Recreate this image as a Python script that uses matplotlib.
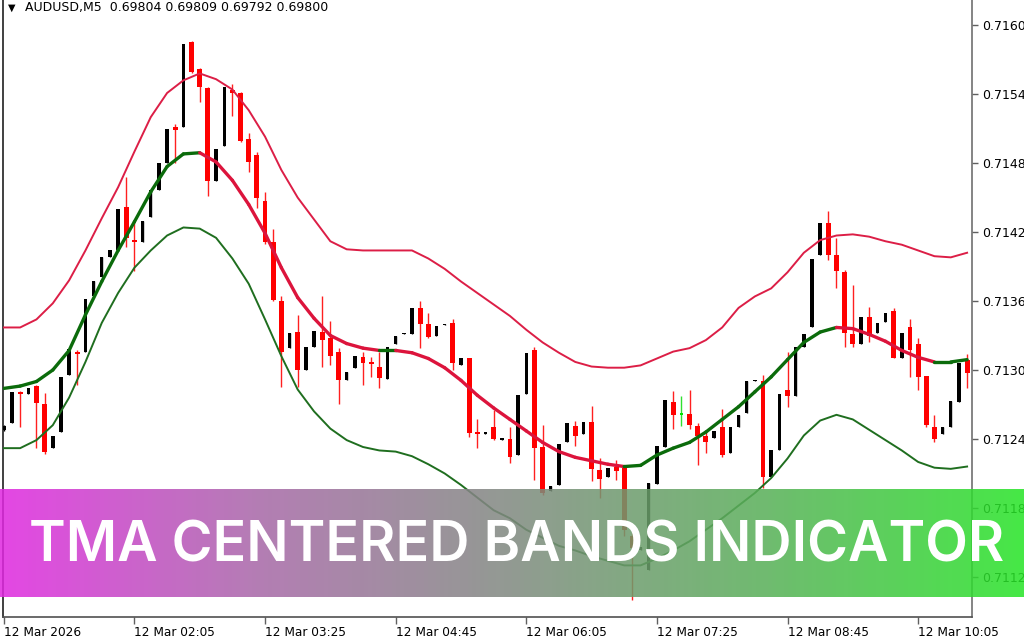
import numpy as np
import matplotlib
matplotlib.use("Agg")
import matplotlib.pyplot as plt
from matplotlib.collections import LineCollection
from matplotlib.colors import LinearSegmentedColormap

# AUDUSD M5 candles (open, high, low, close)
opens = [0.71248, 0.71254, 0.71281, 0.71279, 0.71286, 0.71270, 0.71232, 0.71246, 0.71296, 0.71316,
         0.71316, 0.71364, 0.71381, 0.71398, 0.71404, 0.71442, 0.71413, 0.71411, 0.71433, 0.71457,
         0.71480, 0.71511, 0.71511, 0.71585, 0.71562, 0.71545, 0.71464, 0.71495, 0.71544, 0.71541,
         0.71501, 0.71487, 0.71447, 0.71411, 0.71360, 0.71319, 0.71333, 0.71300, 0.71320, 0.71333,
         0.71328, 0.71316, 0.71291, 0.71302, 0.71311, 0.71307, 0.71303, 0.71292, 0.71323, 0.71331,
         0.71331, 0.71354, 0.71340, 0.71330, 0.71339, 0.71341, 0.71304, 0.71310, 0.71246, 0.71244,
         0.71250, 0.71239, 0.71240, 0.71226, 0.71279, 0.71317, 0.71233, 0.71195, 0.71200, 0.71237,
         0.71251, 0.71244, 0.71255, 0.71213, 0.71207, 0.71216, 0.71215, 0.71156, 0.71143, 0.71126,
         0.71201, 0.71233, 0.71272, 0.71261, 0.71262, 0.71251, 0.71243, 0.71241, 0.71250, 0.71228,
         0.71250, 0.71263, 0.71290, 0.71290, 0.71207, 0.71230, 0.71283, 0.71277, 0.71320, 0.71337,
         0.71400, 0.71428, 0.71400, 0.71385, 0.71331, 0.71323, 0.71346, 0.71332, 0.71342, 0.71351,
         0.71310, 0.71337, 0.71323, 0.71295, 0.71250, 0.71244, 0.71250, 0.71272, 0.71309]
highs = [0.71252, 0.71281, 0.71282, 0.71284, 0.71287, 0.71280, 0.71243, 0.71294, 0.71318, 0.71317,
         0.71362, 0.71377, 0.71398, 0.71404, 0.71440, 0.71468, 0.71430, 0.71430, 0.71457, 0.71480,
         0.71510, 0.71514, 0.71584, 0.71586, 0.71563, 0.71546, 0.71492, 0.71546, 0.71549, 0.71542,
         0.71506, 0.71490, 0.71455, 0.71423, 0.71364, 0.71332, 0.71348, 0.71320, 0.71334, 0.71364,
         0.71343, 0.71319, 0.71298, 0.71312, 0.71316, 0.71311, 0.71316, 0.71320, 0.71330, 0.71332,
         0.71354, 0.71360, 0.71350, 0.71338, 0.71340, 0.71344, 0.71310, 0.71310, 0.71257, 0.71246,
         0.71265, 0.71241, 0.71250, 0.71278, 0.71315, 0.71320, 0.71252, 0.71199, 0.71236, 0.71254,
         0.71256, 0.71255, 0.71269, 0.71223, 0.71215, 0.71222, 0.71216, 0.71158, 0.71146, 0.71202,
         0.71234, 0.71274, 0.71282, 0.71277, 0.71283, 0.71254, 0.71248, 0.71247, 0.71266, 0.71250,
         0.71261, 0.71290, 0.71291, 0.71296, 0.71230, 0.71279, 0.71316, 0.71320, 0.71331, 0.71397,
         0.71428, 0.71438, 0.71415, 0.71387, 0.71374, 0.71346, 0.71355, 0.71341, 0.71350, 0.71354,
         0.71332, 0.71344, 0.71328, 0.71295, 0.71261, 0.71250, 0.71273, 0.71306, 0.71314]
lows = [0.71247, 0.71254, 0.71250, 0.71279, 0.71232, 0.71227, 0.71232, 0.71246, 0.71296, 0.71287,
        0.71316, 0.71364, 0.71381, 0.71398, 0.71404, 0.71407, 0.71386, 0.71411, 0.71433, 0.71457,
        0.71480, 0.71480, 0.71511, 0.71558, 0.71533, 0.71451, 0.71464, 0.71495, 0.71521, 0.71498,
        0.71472, 0.71441, 0.71410, 0.71360, 0.71285, 0.71319, 0.71285, 0.71300, 0.71320, 0.71303,
        0.71304, 0.71270, 0.71291, 0.71302, 0.71287, 0.71294, 0.71284, 0.71292, 0.71323, 0.71331,
        0.71331, 0.71319, 0.71328, 0.71330, 0.71339, 0.71300, 0.71304, 0.71242, 0.71232, 0.71244,
        0.71239, 0.71239, 0.71219, 0.71226, 0.71279, 0.71204, 0.71191, 0.71195, 0.71200, 0.71237,
        0.71234, 0.71244, 0.71203, 0.71189, 0.71207, 0.71204, 0.71156, 0.71100, 0.71143, 0.71126,
        0.71201, 0.71233, 0.71249, 0.71251, 0.71249, 0.71217, 0.71228, 0.71241, 0.71224, 0.71228,
        0.71250, 0.71263, 0.71290, 0.71197, 0.71207, 0.71230, 0.71268, 0.71277, 0.71320, 0.71337,
        0.71400, 0.71396, 0.71371, 0.71320, 0.71320, 0.71323, 0.71324, 0.71332, 0.71342, 0.71310,
        0.71310, 0.71294, 0.71283, 0.71250, 0.71237, 0.71244, 0.71250, 0.71272, 0.71284]
closes = [0.71251, 0.71281, 0.71279, 0.71284, 0.71271, 0.71229, 0.71243, 0.71294, 0.71318, 0.71314,
          0.71362, 0.71377, 0.71398, 0.71404, 0.71440, 0.71415, 0.71411, 0.71430, 0.71457, 0.71480,
          0.71510, 0.71509, 0.71584, 0.71559, 0.71546, 0.71464, 0.71492, 0.71546, 0.71541, 0.71499,
          0.71481, 0.71450, 0.71411, 0.71361, 0.71316, 0.71332, 0.71300, 0.71320, 0.71334, 0.71326,
          0.71312, 0.71291, 0.71298, 0.71312, 0.71306, 0.71305, 0.71293, 0.71320, 0.71330, 0.71332,
          0.71354, 0.71340, 0.71329, 0.71338, 0.71340, 0.71306, 0.71310, 0.71245, 0.71244, 0.71246,
          0.71240, 0.71241, 0.71224, 0.71278, 0.71315, 0.71232, 0.71193, 0.71199, 0.71236, 0.71254,
          0.71243, 0.71255, 0.71214, 0.71205, 0.71215, 0.71212, 0.71161, 0.71145, 0.71146, 0.71202,
          0.71234, 0.71274, 0.71261, 0.71261, 0.71252, 0.71243, 0.71237, 0.71247, 0.71226, 0.71250,
          0.71261, 0.71290, 0.71291, 0.71207, 0.71230, 0.71279, 0.71277, 0.71320, 0.71331, 0.71397,
          0.71428, 0.71400, 0.71386, 0.71332, 0.71323, 0.71346, 0.71330, 0.71341, 0.71350, 0.71310,
          0.71332, 0.71317, 0.71294, 0.71252, 0.71240, 0.71250, 0.71273, 0.71306, 0.71297]

# TMA centered bands, read every second bar
band_bars = list(range(0, 119, 2))
tma_mid = [0.71284, 0.71286, 0.71290, 0.71300, 0.71317, 0.71348, 0.71377, 0.71404, 0.71429, 0.71455,
           0.71477, 0.71488, 0.71489, 0.71481, 0.71465, 0.71444, 0.71419, 0.71389, 0.71363, 0.71345,
           0.71330, 0.71323, 0.71319, 0.71317, 0.71317, 0.71315, 0.71310, 0.71302, 0.71291, 0.71278,
           0.71267, 0.71257, 0.71247, 0.71237, 0.71229, 0.71224, 0.71221, 0.71218, 0.71216, 0.71217,
           0.71226, 0.71232, 0.71237, 0.71246, 0.71257, 0.71268, 0.71281, 0.71294, 0.71309, 0.71324,
           0.71333, 0.71337, 0.71336, 0.71331, 0.71325, 0.71317, 0.71311, 0.71307, 0.71307, 0.71309]
tma_upper = [0.71337, 0.71337, 0.71344, 0.71358, 0.71378, 0.71404, 0.71432, 0.71459, 0.71490, 0.71520,
             0.71541, 0.71552, 0.71558, 0.71553, 0.71544, 0.71526, 0.71503, 0.71474, 0.71450, 0.71431,
             0.71412, 0.71405, 0.71404, 0.71404, 0.71404, 0.71404, 0.71397, 0.71388, 0.71377, 0.71367,
             0.71357, 0.71347, 0.71335, 0.71324, 0.71315, 0.71307, 0.71303, 0.71302, 0.71302, 0.71304,
             0.71310, 0.71316, 0.71319, 0.71326, 0.71337, 0.71354, 0.71364, 0.71371, 0.71385, 0.71402,
             0.71413, 0.71417, 0.71418, 0.71416, 0.71412, 0.71409, 0.71404, 0.71399, 0.71398, 0.71402]
tma_lower = [0.71232, 0.71232, 0.71239, 0.71252, 0.71276, 0.71307, 0.71341, 0.71367, 0.71389, 0.71404,
             0.71417, 0.71424, 0.71423, 0.71415, 0.71397, 0.71375, 0.71344, 0.71312, 0.71283, 0.71264,
             0.71249, 0.71239, 0.71233, 0.71230, 0.71229, 0.71225, 0.71218, 0.71210, 0.71200, 0.71189,
             0.71178, 0.71171, 0.71161, 0.71154, 0.71147, 0.71143, 0.71138, 0.71134, 0.71130, 0.71130,
             0.71136, 0.71143, 0.71151, 0.71161, 0.71171, 0.71182, 0.71193, 0.71206, 0.71223, 0.71243,
             0.71256, 0.71261, 0.71257, 0.71248, 0.71239, 0.71230, 0.71220, 0.71215, 0.71214, 0.71216]

x_tick_bars = [0, 16, 32, 48, 64, 80, 96, 112]
x_tick_labels = ["12 Mar 2026", "12 Mar 02:05", "12 Mar 03:25", "12 Mar 04:45",
                 "12 Mar 06:05", "12 Mar 07:25", "12 Mar 08:45", "12 Mar 10:05"]
y_ticks = [0.7112, 0.7118, 0.7124, 0.7130, 0.7136, 0.7142, 0.7148, 0.7154, 0.7160]

header = "AUDUSD,M5  0.69804 0.69809 0.69792 0.69800"
banner_text = "TMA CENTERED BANDS INDICATOR"

W, H = 1024, 640
fig = plt.figure(figsize=(W / 100, H / 100), dpi=100)
ax = fig.add_axes([3 / W, 23 / H, 969 / W, 617 / H])

o = np.array(opens)
hi = np.array(highs)
lo = np.array(lows)
c = np.array(closes)
idx = np.arange(len(o))

bull = c > o
doji = np.isclose(c, o)
body_col = np.where(doji, "#00e000", np.where(bull, "black", "#ff0000"))
wick_col = np.where(doji, "#30e030", np.where(bull, "black", "#ff2020"))
widths = np.where(bull | doji, 0.42, 0.6)
bottoms = np.minimum(o, c)
heights = np.maximum(np.abs(c - o), 0.000012)

ax.vlines(idx, lo, hi, colors=wick_col, lw=1.0, zorder=2)
ax.bar(idx, heights, bottom=bottoms, width=widths, color=body_col, linewidth=0, zorder=3)

# bands
ax.plot(band_bars, tma_upper, color="#dc1e46", lw=1.4, zorder=4, solid_joinstyle="round")
ax.plot(band_bars, tma_lower, color="#1f6e1f", lw=1.4, zorder=4, solid_joinstyle="round")

# middle line coloured by slope
mid = np.array(tma_mid)
pts = np.column_stack([band_bars, mid])
segs = np.stack([pts[:-1], pts[1:]], axis=1)
seg_cols = ["#0b6b0b" if d >= 0 else "#dc143c" for d in np.diff(mid)]
ax.add_collection(LineCollection(segs, colors=seg_cols, lw=2.4, capstyle="round",
                                 joinstyle="round", zorder=5))

ax.set_xlim(-0.1, 118.6)
ax.set_ylim(0.710851, 0.716219)

ax.yaxis.tick_right()
ax.set_yticks(y_ticks)
ax.set_yticklabels([f"{v:.4f}" for v in y_ticks])
ax.set_xticks(x_tick_bars)
ax.set_xticklabels(x_tick_labels, ha="left")
ax.tick_params(axis="y", direction="out", length=4, width=1, pad=3, labelsize=9,
               colors="#606060", labelcolor="black")
ax.tick_params(axis="x", direction="out", length=5, width=1, pad=1.5, labelsize=8.7,
               colors="#606060", labelcolor="black")

ax.spines["top"].set_visible(False)
ax.spines["left"].set_color("#202020")
ax.spines["right"].set_color("#707070")
ax.spines["bottom"].set_color("#505050")
for s in ("left", "right", "bottom"):
    ax.spines[s].set_linewidth(1.2)

fig.text(8 / W, 1 - 8 / H, "\u25bc", fontsize=7, va="center", ha="left", color="black")
fig.text(25 / W, 1 - 7 / H, header, fontsize=9, va="center", ha="left", color="black")

# gradient banner across the lower part
bax = fig.add_axes([0, 43 / H, 1, 108 / H], zorder=10)
cmap = LinearSegmentedColormap.from_list("banner", ["#e028e0", "#a868a8", "#808a80", "#58b058", "#28e428"])
bax.imshow(np.linspace(0, 1, 512)[None, :], aspect="auto", cmap=cmap, alpha=0.86,
           extent=[0, 1, 0, 1])
bax.set_xlim(0, 1)
bax.set_ylim(0, 1)
bax.axis("off")
t = bax.text(0.505, 0.47, banner_text, color="white", fontsize=40, fontweight="semibold",
             family="Inter", ha="center", va="center")
fig.canvas.draw()
bb = t.get_window_extent()
t.set_fontsize(40 * 975 / bb.width)

fig.savefig("out.png", dpi=100)
